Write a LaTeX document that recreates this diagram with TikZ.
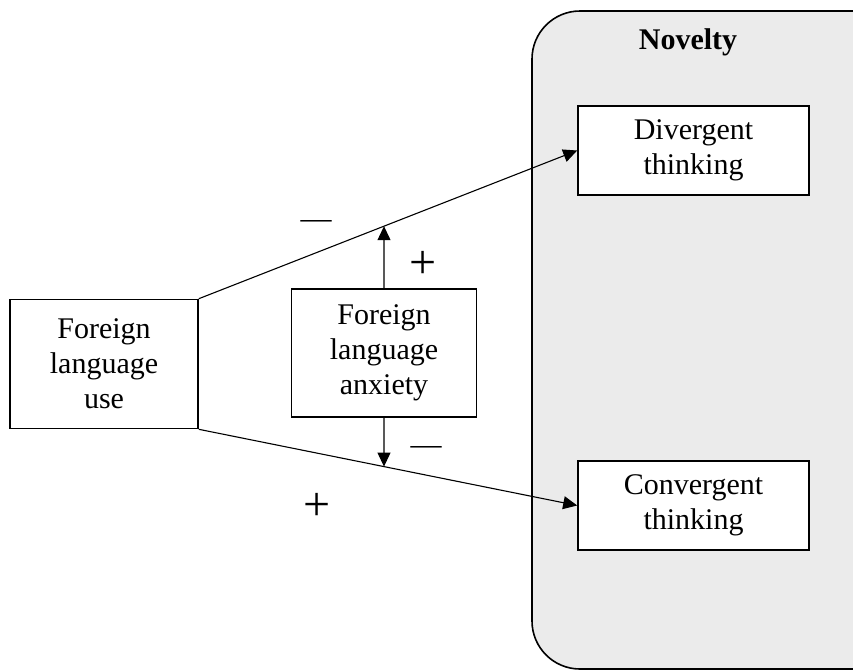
\documentclass[tikz,border=0pt]{standalone}
\usepackage{fontspec}
\setmainfont{Liberation Serif}
\usetikzlibrary{arrows.meta}
\definecolor{panelgray}{RGB}{235,235,235}

\tikzset{
  varbox/.style={draw, line width=1.6pt, fill=white, align=center, inner sep=0pt,
    font=\fontsize{30}{35}\selectfont},
  link/.style={line width=1.1pt, -{Triangle[length=14pt,width=13pt]}},
  plussign/.style={font=\fontsize{48}{50}\selectfont},
  dashsign/.style={anchor=base, inner sep=0pt, font=\fontsize{31}{35}\selectfont}
}

\begin{document}
\begin{tikzpicture}[x=1pt,y=-1pt]

% Frame
\clip (0,0) rectangle (853,670);

% Novelty panel
\draw[fill=panelgray, line width=1.6pt, rounded corners=48pt] (532,11) rectangle (900,669);
\node[font=\fontsize{30}{35}\selectfont\bfseries] (nov) at (688,42) {Novelty};

% Variables
\node[varbox, minimum width=188pt, minimum height=129pt] (use) at (104,364) {Foreign\\language\\use};
\node[varbox, minimum width=185pt, minimum height=128pt] (anx) at (384,353) {Foreign\\language\\anxiety};
\node[varbox, minimum width=231pt, minimum height=89pt] (div) at (693.5,150.5) {Divergent\\thinking};
\node[varbox, minimum width=231pt, minimum height=89pt] (conv) at (693.5,505.5) {Convergent\\thinking};

% Direct paths
\draw[link] (use.north east) -- (div.west);
\draw[link] (use.south east) -- (conv.west);

% Moderation
\coordinate (up) at (intersection of use.north east--div.west and anx.north--anx.south);
\coordinate (down) at (intersection of use.south east--conv.west and anx.north--anx.south);
\draw[link] (anx.north) -- (up);
\draw[link] (anx.south) -- (down);

% Signs
\node[dashsign] (minA) at (316,228) {—};
\node[plussign] (plusA) at (423,265) {+};
\node[dashsign] (minB) at (426,454) {—};
\node[plussign] (plusB) at (317,507) {+};

\end{tikzpicture}
\end{document}
